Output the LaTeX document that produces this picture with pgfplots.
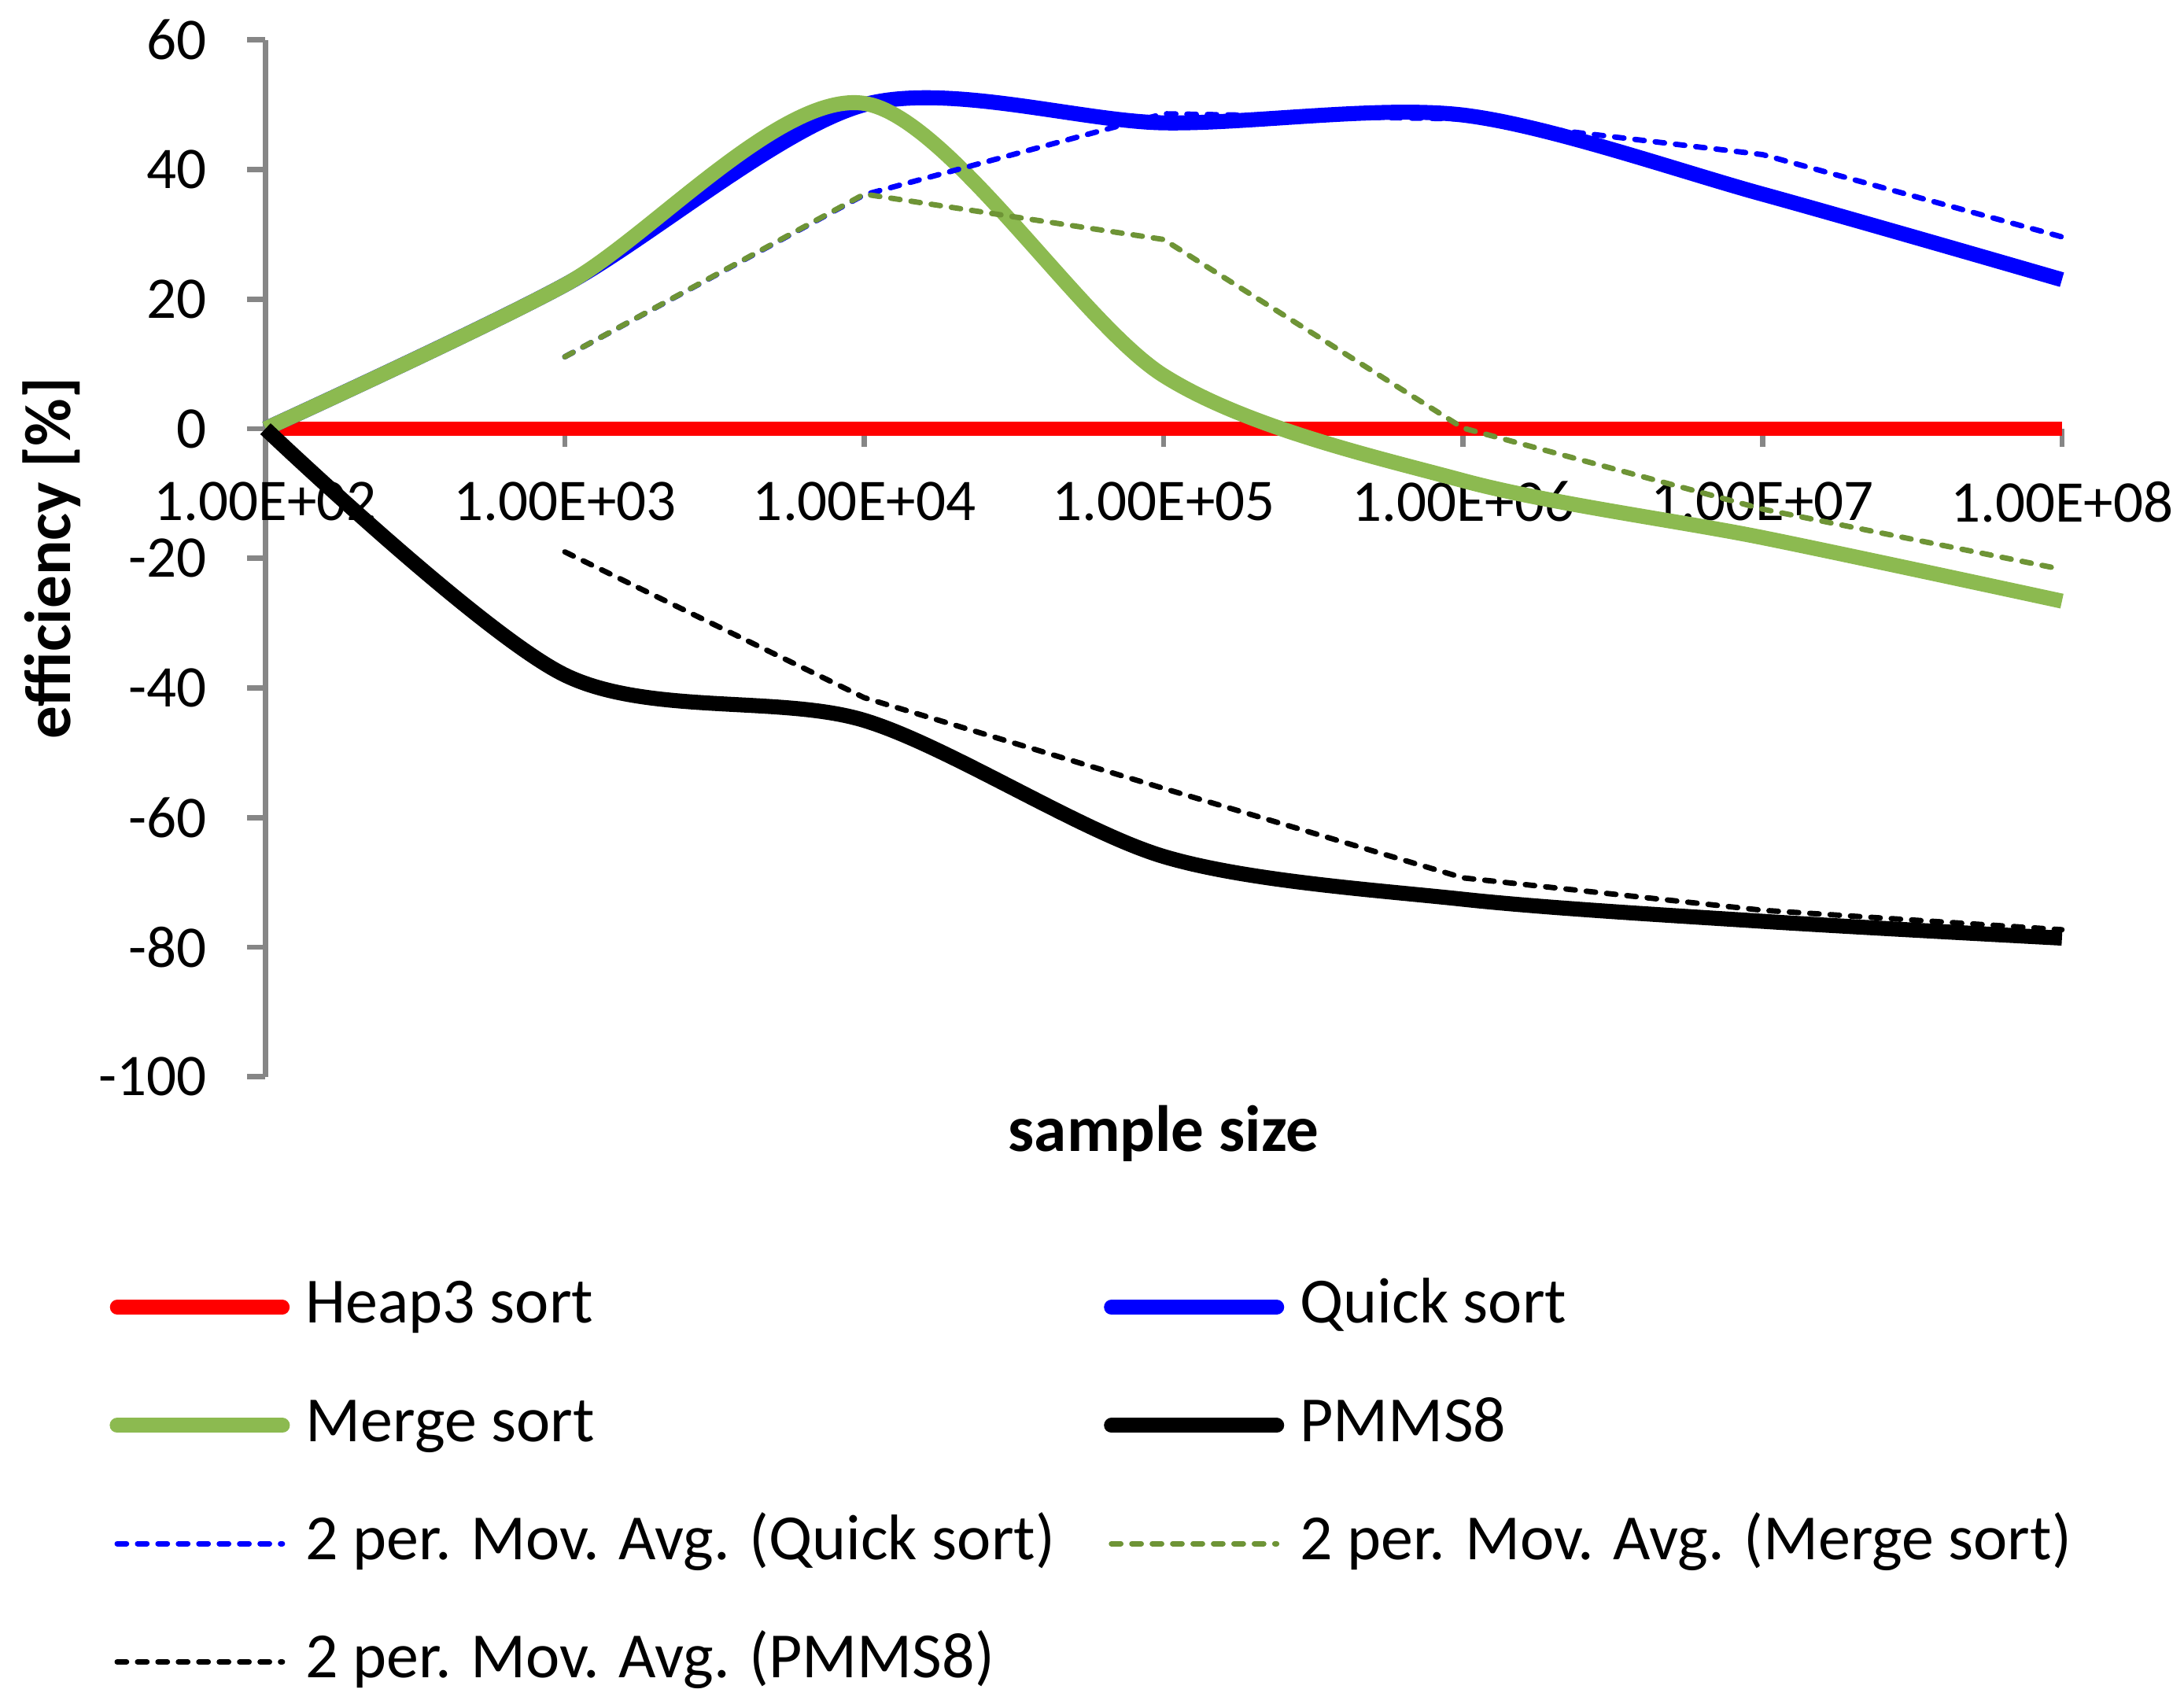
\documentclass[border=0pt]{standalone}
\usepackage{pgfplots}
\pgfplotsset{compat=1.18}
\usepackage{fontspec}
\setmainfont{Carlito}
\definecolor{mgreen}{RGB}{140,186,80}
\definecolor{dgreen}{RGB}{110,148,54}
\definecolor{axgray}{RGB}{134,134,134}
\begin{document}
\begin{tikzpicture}
\path (0,0) rectangle (15.6,12.167);
\begin{axis}[
  at={(1.896cm,4.475cm)}, anchor=south west,
  scale only axis, width=12.832cm, height=7.407cm,
  xmin=0, xmax=6, ymin=-100, ymax=60,
  clip=false,
  axis x line*=middle, axis y line*=left,
  axis line style={draw=axgray, line width=1.07pt, -},
  hide obscured x ticks=false,
  xtick={0,1,2,3,4,5,6},
  xticklabels={1.00E+02,1.00E+03,1.00E+04,1.00E+05,1.00E+06,1.00E+07,1.00E+08},
  ytick={-100,-80,-60,-40,-20,0,20,40,60},
  yticklabels={-100,-80,-60,-40,-20,0,20,40,60},
  tick align=outside,
  major tick length=0.131cm,
  tick style={draw=axgray, line width=1.07pt},
  xticklabel style={font=\fontsize{12}{14}\selectfont, inner sep=0pt, anchor=center, yshift=-0.39cm},
  yticklabel style={font=\fontsize{12}{14}\selectfont, inner sep=0pt, anchor=east, xshift=-0.28cm},
  xlabel={sample size},
  ylabel={efficiency [\%]},
  xlabel style={font=\fontsize{13.3}{15}\selectfont\bfseries, at={(axis description cs:0.5,-0.0547)}, anchor=center},
  ylabel style={font=\fontsize{13.3}{15}\selectfont\bfseries, at={(axis description cs:-0.1189,0.5)}, anchor=center, rotate=0},
  legend columns=2,
  legend cell align=left,
  legend image code/.code={\draw[#1, line cap=round] (0cm,0cm) -- (1.18cm,0cm);},
  legend style={
    at={(axis description cs:-0.0867,-0.1925)}, anchor=north west,
    draw=none, fill=none, inner sep=0pt, outer sep=0pt,
    font=\fontsize{13.1}{15}\selectfont,
    nodes={inner sep=0pt, text height=9.5pt, text depth=3pt},
    row sep=11.53pt, column sep=0.114cm,
    /tikz/every even column/.append style={column sep=0.35cm},
  },
]
\addplot[red, line width=2.95pt] coordinates {(0,0)(1,0)(2,0)(3,0)(4,0)(5,0)(6,0)};
\addlegendentry{Heap3 sort}
\addplot[blue, line width=3.05pt, smooth, tension=0.5] coordinates {(0,0)(1,22.2)(2,50)(3,47.2)(4,48.4)(5,36.2)(6,23)};
\addlegendentry{Quick sort}
\addplot[mgreen, line width=3.05pt, smooth, tension=0.5] coordinates {(0,0)(1,22.2)(2,50.2)(3,8.2)(4,-8)(5,-16.8)(6,-26.6)};
\addlegendentry{Merge sort}
\addplot[black, line width=3.05pt, smooth, tension=0.5] coordinates {(0,0)(1,-38)(2,-45)(3,-66)(4,-72.6)(5,-76)(6,-78.6)};
\addlegendentry{PMMS8}
\addplot[blue, line width=1.1pt, line cap=round, dash pattern=on 1.9pt off 2.25pt] coordinates {(1,11.1)(2,36.1)(3,48.6)(4,47.8)(5,42.3)(6,29.6)};
\addlegendentry{2 per. Mov. Avg. (Quick sort)}
\addplot[dgreen, line width=1.1pt, line cap=round, dash pattern=on 1.9pt off 2.25pt] coordinates {(1,11.1)(2,36.2)(3,29.2)(4,0.1)(5,-12.4)(6,-21.7)};
\addlegendentry{2 per. Mov. Avg. (Merge sort)}
\addplot[black, line width=1.1pt, line cap=round, dash pattern=on 1.9pt off 2.25pt] coordinates {(1,-19)(2,-41.5)(3,-55.5)(4,-69.3)(5,-74.3)(6,-77.3)};
\addlegendentry{2 per. Mov. Avg. (PMMS8)}
\end{axis}
\pgfresetboundingbox
\path (0,0) rectangle (15.6,12.167);
\end{tikzpicture}
\end{document}
